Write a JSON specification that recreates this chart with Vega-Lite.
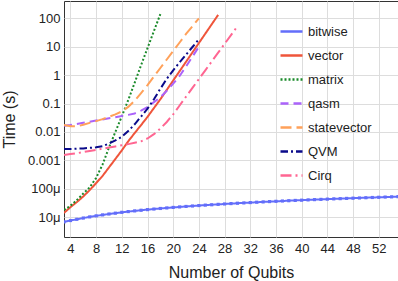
{
  "$schema": "https://vega.github.io/schema/vega-lite/v6.json",
  "width": 334,
  "height": 236,
  "autosize": "none",
  "padding": {"left": 64, "top": 1, "right": 0, "bottom": 44},
  "config": {
    "font": "Liberation Sans",
    "view": {"stroke": "#333", "strokeWidth": 1},
    "axis": {"labelFont": "Liberation Sans", "titleFont": "Liberation Sans", "labelFontSize": 13, "titleFontSize": 16, "titleFontWeight": "normal", "labelColor": "#222", "titleColor": "#222", "gridColor": "#dddddd", "gridWidth": 1, "ticks": false, "domain": false},
    "legend": {"labelFont": "Liberation Sans", "labelFontSize": 13, "labelColor": "#222"}
  },
  "data": {"values": [
    {"s":"bitwise","n":3,"t":6.8e-6},{"s":"bitwise","n":4,"t":7.6e-6},{"s":"bitwise","n":5,"t":8.4e-6},{"s":"bitwise","n":6,"t":9.3e-6},{"s":"bitwise","n":7,"t":10.2e-6},{"s":"bitwise","n":8,"t":11.1e-6},{"s":"bitwise","n":9,"t":12.0e-6},{"s":"bitwise","n":10,"t":12.9e-6},{"s":"bitwise","n":11,"t":13.8e-6},{"s":"bitwise","n":12,"t":14.8e-6},{"s":"bitwise","n":13,"t":15.7e-6},{"s":"bitwise","n":14,"t":16.6e-6},{"s":"bitwise","n":15,"t":17.5e-6},{"s":"bitwise","n":16,"t":18.4e-6},{"s":"bitwise","n":17,"t":19.3e-6},{"s":"bitwise","n":18,"t":20.2e-6},{"s":"bitwise","n":19,"t":21.1e-6},{"s":"bitwise","n":20,"t":22.0e-6},{"s":"bitwise","n":21,"t":22.9e-6},{"s":"bitwise","n":22,"t":23.8e-6},{"s":"bitwise","n":23,"t":24.7e-6},{"s":"bitwise","n":24,"t":25.6e-6},{"s":"bitwise","n":25,"t":26.5e-6},{"s":"bitwise","n":26,"t":27.3e-6},{"s":"bitwise","n":27,"t":28.2e-6},{"s":"bitwise","n":28,"t":29.1e-6},{"s":"bitwise","n":29,"t":30.0e-6},{"s":"bitwise","n":30,"t":30.9e-6},{"s":"bitwise","n":31,"t":31.7e-6},{"s":"bitwise","n":32,"t":32.6e-6},{"s":"bitwise","n":33,"t":33.5e-6},{"s":"bitwise","n":34,"t":34.4e-6},{"s":"bitwise","n":35,"t":35.3e-6},{"s":"bitwise","n":36,"t":36.1e-6},{"s":"bitwise","n":37,"t":37.0e-6},{"s":"bitwise","n":38,"t":37.9e-6},{"s":"bitwise","n":39,"t":38.8e-6},{"s":"bitwise","n":40,"t":39.6e-6},{"s":"bitwise","n":41,"t":40.5e-6},{"s":"bitwise","n":42,"t":41.4e-6},{"s":"bitwise","n":43,"t":42.2e-6},{"s":"bitwise","n":44,"t":43.1e-6},{"s":"bitwise","n":45,"t":44.0e-6},{"s":"bitwise","n":46,"t":44.8e-6},{"s":"bitwise","n":47,"t":45.7e-6},{"s":"bitwise","n":48,"t":46.6e-6},{"s":"bitwise","n":49,"t":47.4e-6},{"s":"bitwise","n":50,"t":48.3e-6},{"s":"bitwise","n":51,"t":49.2e-6},{"s":"bitwise","n":52,"t":50.0e-6},{"s":"bitwise","n":53,"t":50.9e-6},{"s":"bitwise","n":54,"t":51.8e-6},{"s":"bitwise","n":55,"t":52.6e-6},
    {"s":"vector","n":3,"t":1.41e-5},{"s":"vector","n":4,"t":2.24e-5},{"s":"vector","n":5,"t":3.39e-5},{"s":"vector","n":6,"t":5.37e-5},{"s":"vector","n":7,"t":8.91e-5},{"s":"vector","n":8,"t":1.58e-4},{"s":"vector","n":9,"t":2.82e-4},{"s":"vector","n":10,"t":5.62e-4},{"s":"vector","n":11,"t":1.12e-3},{"s":"vector","n":12,"t":2.24e-3},{"s":"vector","n":13,"t":4.68e-3},{"s":"vector","n":14,"t":9.12e-3},{"s":"vector","n":15,"t":0.0174},{"s":"vector","n":16,"t":0.0339},{"s":"vector","n":17,"t":0.0692},{"s":"vector","n":18,"t":0.141},{"s":"vector","n":19,"t":0.302},{"s":"vector","n":20,"t":0.646},{"s":"vector","n":21,"t":1.38},{"s":"vector","n":22,"t":2.95},{"s":"vector","n":23,"t":6.31},{"s":"vector","n":24,"t":13.5},{"s":"vector","n":25,"t":28.8},{"s":"vector","n":26,"t":61.7},{"s":"vector","n":27,"t":132},
    {"s":"matrix","n":3,"t":1.78e-5},{"s":"matrix","n":4,"t":2.51e-5},{"s":"matrix","n":5,"t":3.98e-5},{"s":"matrix","n":6,"t":6.76e-5},{"s":"matrix","n":7,"t":1.12e-4},{"s":"matrix","n":8,"t":2.4e-4},{"s":"matrix","n":9,"t":7.08e-4},{"s":"matrix","n":10,"t":2.82e-3},{"s":"matrix","n":11,"t":0.01},{"s":"matrix","n":12,"t":0.0355},{"s":"matrix","n":13,"t":0.132},{"s":"matrix","n":14,"t":0.537},{"s":"matrix","n":15,"t":2.24},{"s":"matrix","n":16,"t":8.91},{"s":"matrix","n":17,"t":35.5},{"s":"matrix","n":18,"t":141},
    {"s":"qasm","n":3,"t":0.0166},{"s":"qasm","n":4,"t":0.0174},{"s":"qasm","n":5,"t":0.0191},{"s":"qasm","n":6,"t":0.0209},{"s":"qasm","n":7,"t":0.0229},{"s":"qasm","n":8,"t":0.0251},{"s":"qasm","n":9,"t":0.0275},{"s":"qasm","n":10,"t":0.0302},{"s":"qasm","n":11,"t":0.0331},{"s":"qasm","n":12,"t":0.0363},{"s":"qasm","n":13,"t":0.0398},{"s":"qasm","n":14,"t":0.0447},{"s":"qasm","n":15,"t":0.0562},{"s":"qasm","n":16,"t":0.0759},{"s":"qasm","n":17,"t":0.112},{"s":"qasm","n":18,"t":0.166},{"s":"qasm","n":19,"t":0.282},{"s":"qasm","n":20,"t":0.501},{"s":"qasm","n":21,"t":0.933},{"s":"qasm","n":22,"t":2.0},{"s":"qasm","n":23,"t":4.47},{"s":"qasm","n":24,"t":10},
    {"s":"statevector","n":3,"t":0.0174},{"s":"statevector","n":4,"t":0.0158},{"s":"statevector","n":5,"t":0.0158},{"s":"statevector","n":6,"t":0.0178},{"s":"statevector","n":7,"t":0.0209},{"s":"statevector","n":8,"t":0.024},{"s":"statevector","n":9,"t":0.0282},{"s":"statevector","n":10,"t":0.0339},{"s":"statevector","n":11,"t":0.0417},{"s":"statevector","n":12,"t":0.0525},{"s":"statevector","n":13,"t":0.0759},{"s":"statevector","n":14,"t":0.126},{"s":"statevector","n":15,"t":0.234},{"s":"statevector","n":16,"t":0.447},{"s":"statevector","n":17,"t":0.891},{"s":"statevector","n":18,"t":1.78},{"s":"statevector","n":19,"t":3.55},{"s":"statevector","n":20,"t":7.08},{"s":"statevector","n":21,"t":14.1},{"s":"statevector","n":22,"t":28.2},{"s":"statevector","n":23,"t":52.5},{"s":"statevector","n":24,"t":100},
    {"s":"QVM","n":3,"t":2.51e-3},{"s":"QVM","n":4,"t":2.51e-3},{"s":"QVM","n":5,"t":2.57e-3},{"s":"QVM","n":6,"t":2.63e-3},{"s":"QVM","n":7,"t":2.75e-3},{"s":"QVM","n":8,"t":2.88e-3},{"s":"QVM","n":9,"t":3.16e-3},{"s":"QVM","n":10,"t":3.89e-3},{"s":"QVM","n":11,"t":5.01e-3},{"s":"QVM","n":12,"t":6.76e-3},{"s":"QVM","n":13,"t":0.0107},{"s":"QVM","n":14,"t":0.0186},{"s":"QVM","n":15,"t":0.0347},{"s":"QVM","n":16,"t":0.0661},{"s":"QVM","n":17,"t":0.141},{"s":"QVM","n":18,"t":0.331},{"s":"QVM","n":19,"t":0.741},{"s":"QVM","n":20,"t":1.48},{"s":"QVM","n":21,"t":2.82},{"s":"QVM","n":22,"t":5.25},{"s":"QVM","n":23,"t":9.77},{"s":"QVM","n":24,"t":18.2},
    {"s":"Cirq","n":3,"t":1.55e-3},{"s":"Cirq","n":4,"t":1.66e-3},{"s":"Cirq","n":5,"t":1.78e-3},{"s":"Cirq","n":6,"t":1.95e-3},{"s":"Cirq","n":7,"t":2.14e-3},{"s":"Cirq","n":8,"t":2.34e-3},{"s":"Cirq","n":9,"t":2.57e-3},{"s":"Cirq","n":10,"t":2.82e-3},{"s":"Cirq","n":11,"t":3.09e-3},{"s":"Cirq","n":12,"t":3.39e-3},{"s":"Cirq","n":13,"t":3.72e-3},{"s":"Cirq","n":14,"t":4.17e-3},{"s":"Cirq","n":15,"t":4.68e-3},{"s":"Cirq","n":16,"t":5.89e-3},{"s":"Cirq","n":17,"t":8.32e-3},{"s":"Cirq","n":18,"t":0.0132},{"s":"Cirq","n":19,"t":0.0224},{"s":"Cirq","n":20,"t":0.0417},{"s":"Cirq","n":21,"t":0.0851},{"s":"Cirq","n":22,"t":0.174},{"s":"Cirq","n":23,"t":0.355},{"s":"Cirq","n":24,"t":0.724},{"s":"Cirq","n":25,"t":1.48},{"s":"Cirq","n":26,"t":3.02},{"s":"Cirq","n":27,"t":6.17},{"s":"Cirq","n":28,"t":12.6},{"s":"Cirq","n":29,"t":25.7},{"s":"Cirq","n":30,"t":52.5}
  ]},
  "encoding": {
    "x": {"field": "n", "type": "quantitative", "title": "Number of Qubits",
      "scale": {"domain": [3, 55], "nice": false, "zero": false},
      "axis": {"values": [4,8,12,16,20,24,28,32,36,40,44,48,52], "labelPadding": 5, "titlePadding": 9}},
    "y": {"field": "t", "type": "quantitative", "title": "Time (s)",
      "scale": {"type": "log", "domain": [2e-6, 407], "nice": false},
      "axis": {"values": [1e-5, 1e-4, 1e-3, 0.01, 0.1, 1, 10, 100], "labelPadding": 4, "titlePadding": 10,
        "labelExpr": "datum.value < 0.0009 ? round(datum.value * 1e6) + 'μ' : format(datum.value, '~g')"}}
  },
  "layer": [
    {
      "mark": {"type": "line", "strokeWidth": 2, "clip": true},
      "encoding": {
        "detail": {"field": "s"},
        "color": {"field": "s", "type": "nominal", "title": null,
          "scale": {"domain": ["bitwise","vector","matrix","qasm","statevector","QVM","Cirq"],
                    "range": ["#636efa","#ef553b","#1a8a2a","#ab63fa","#ffa15a","#0a0a8a","#ff6692"]},
          "legend": {"orient": "none", "legendX": 215, "legendY": 18, "symbolType": "stroke", "symbolSize": 484, "symbolStrokeWidth": 2.5, "labelOffset": 4, "rowPadding": 4}},
        "strokeDash": {"field": "s", "type": "nominal", "title": null,
          "scale": {"domain": ["bitwise","vector","matrix","qasm","statevector","QVM","Cirq"],
                    "range": [[1,0],[1,0],[2,2],[8,5],[11,5],[7.5,3,2,3],[11,4,2,4]]}}
      }
    },
    {
      "transform": [{"filter": "datum.s === 'bitwise'"}],
      "mark": {"type": "point", "shape": "square", "filled": true, "size": 10, "opacity": 1, "color": "#636efa", "clip": true}
    }
  ]
}
